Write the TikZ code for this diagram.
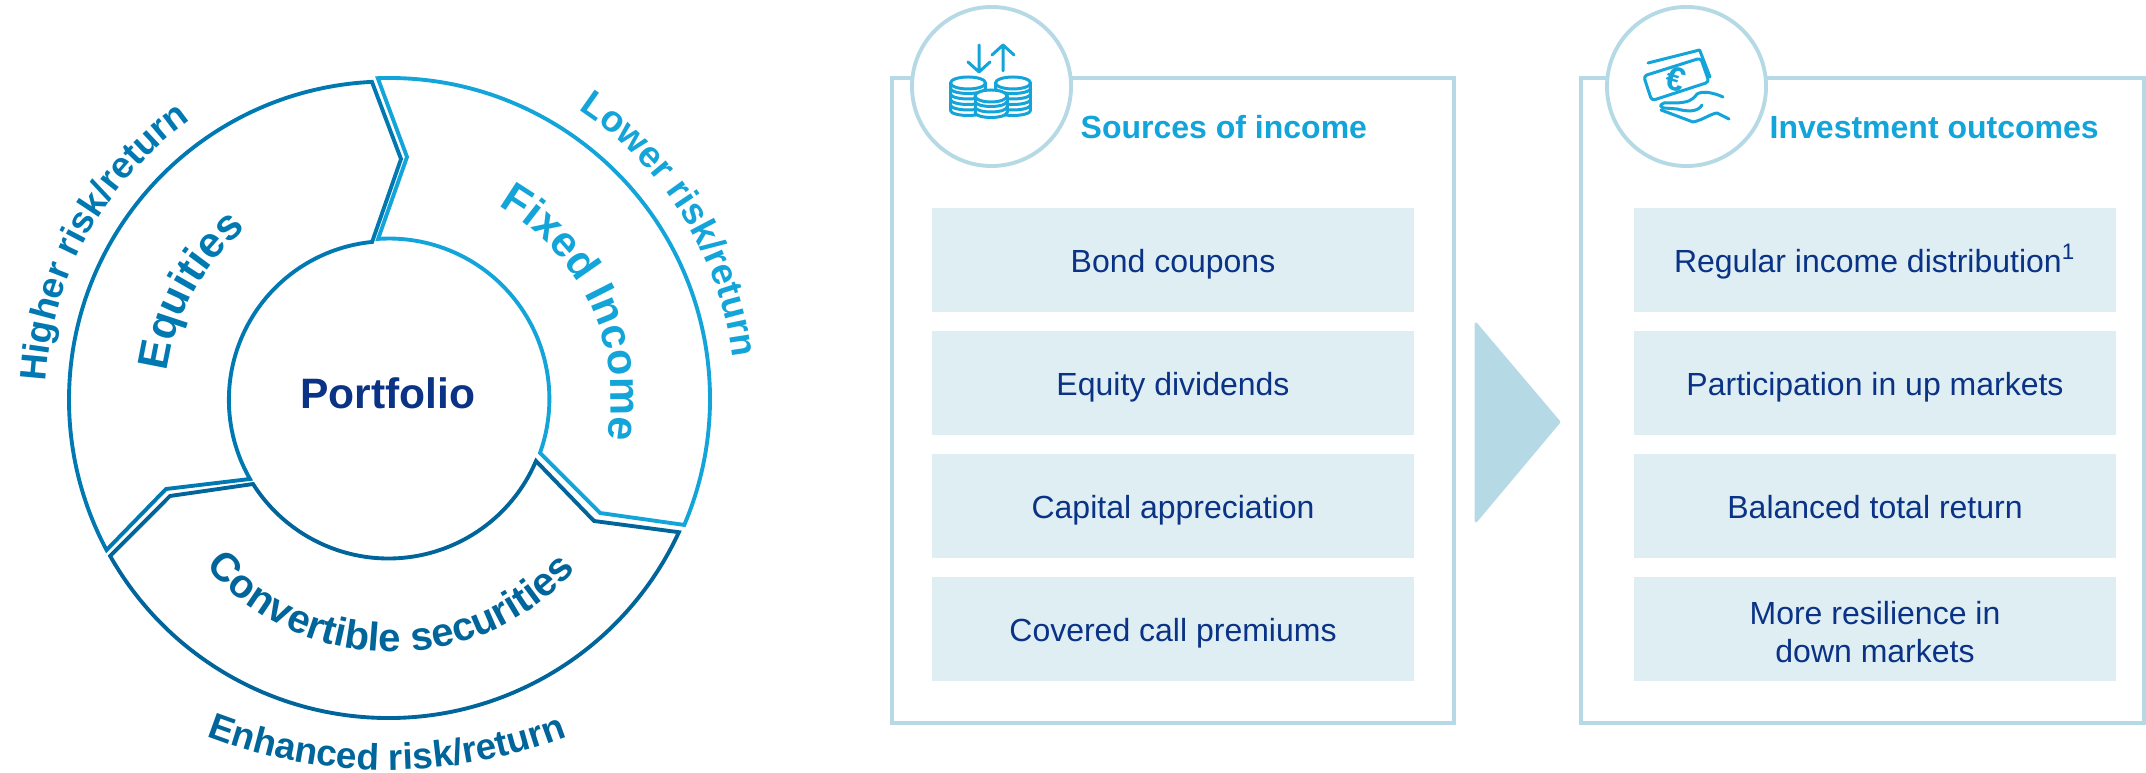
\documentclass[tikz,border=0pt]{standalone}
\usepackage{fontspec}
\setmainfont{Liberation Sans}
\usetikzlibrary{decorations.text}
\definecolor{navytext}{HTML}{0A3285}
\definecolor{equityblue}{HTML}{0079B2}
\definecolor{fixedblue}{HTML}{13A4D9}
\definecolor{convblue}{HTML}{00659A}
\definecolor{panelline}{HTML}{B5DAE6}
\definecolor{boxfill}{HTML}{DFEEF3}
\newcommand{\bigarc}{\bfseries\fontsize{12.2}{14}\selectfont}
\newcommand{\convarc}{\bfseries\fontsize{11.4}{14}\selectfont}
\newcommand{\smallarc}{\bfseries\fontsize{10.5}{13}\selectfont}
\newcommand{\coinstack}[4]{% centre x, top y, half width, layers
	\fill[white] (#1-#3,#2) -- (#1-#3,#2-5.5*#4) arc[start angle=180,end angle=360,x radius=#3,y radius=5] -- (#1+#3,#2) arc[start angle=0,end angle=180,x radius=#3,y radius=6];
	\foreach \layer in {1,...,#4} {
		\draw[iconline] (#1-#3,#2-5.5*\layer) arc[start angle=180,end angle=360,x radius=#3,y radius=5];
	}
	\draw[iconline] (#1-#3,#2) -- (#1-#3,#2-5.5*#4) (#1+#3,#2) -- (#1+#3,#2-5.5*#4);
	\draw[iconline] (#1,#2) ellipse[x radius=#3,y radius=6];
}
\tikzset{
	panel/.style={draw=panelline, line width=1.1pt},
	iconcircle/.style={circle, draw=panelline, fill=white, line width=1.1pt, minimum size=1.59cm, inner sep=0},
	itembox/.style={fill=boxfill, text=navytext, minimum width=4.82cm, minimum height=1.04cm, inner sep=0, align=center, font=\fontsize{9.1}{10.9}\selectfont},
	oneline/.style={text height=9.1pt, text depth=2pt},
	headertext/.style={text=fixedblue, inner sep=0, font=\bfseries\fontsize{9.1}{11}\selectfont},
	iconline/.style={draw=fixedblue, line width=0.85pt, line cap=round, line join=round},
	ringline/.style={line width=1.1pt, line join=miter},
}
\begin{document}
\begin{tikzpicture}[x=0.01cm, y=0.01cm]
	\useasboundingbox (0,0) rectangle (2146,773);
	\coordinate (eqcentre) at (387.5,373);
	\coordinate (fixedcentre) at (389,374);
	\coordinate (convcentre) at (388.4,375);
	% ring
	\draw[ringline, draw=equityblue] (eqcentre) ++(92.8:318.5) arc[start angle=92.8, end angle=208.1, radius=318.5] -- (166,284) -- (250,294) arc[start angle=209.9, end angle=95.6, radius=158.7] -- (401,614) -- cycle;
	\draw[ringline, draw=fixedblue] (fixedcentre) ++(92:321) arc[start angle=92, end angle=-23.1, radius=321] -- (600,260) -- (540,320) arc[start angle=-19.7, end angle=93.9, radius=160.4] -- (407,616) -- cycle;
	\draw[ringline, draw=convblue] (convcentre) ++(209.6:320) arc[start angle=209.6, end angle=335.2, radius=320] -- (594,252) -- (536,312) arc[start angle=336.9, end angle=212.4, radius=160.4] -- (170,277) -- cycle;
	\node[text=navytext, inner sep=0, font=\bfseries\fontsize{12.1}{14}\selectfont] (portfolio) at (388,380) {Portfolio};
	% ring labels
	\path[decorate, decoration={text along path, text align=center, text={|\bigarc\color{equityblue}|Equities}}] (eqcentre) ++(173:222) arc[start angle=173, end angle=129, radius=222];
	\path[decorate, decoration={text along path, text align=center, text={|\bigarc\color{fixedblue}|Fixed Income}}] (fixedcentre) ++(61.5:222) arc[start angle=61.5, end angle=-11.5, radius=222];
	\path[decorate, decoration={text along path, text align=center, text={|\convarc\color{convblue}|Convertible securities}}] (392,367) ++(219:246) arc[start angle=219, end angle=320, radius=246];
	\path[decorate, decoration={text along path, text align=center, text={|\smallarc\color{equityblue}|Higher risk/return}}] (eqcentre) ++(176:342) arc[start angle=176, end angle=126, radius=342];
	\path[decorate, decoration={text along path, text align=center, text={|\smallarc\color{fixedblue}|Lower risk/return}}] (fixedcentre) ++(56:346) arc[start angle=56, end angle=7.6, radius=346];
	\path[decorate, decoration={text along path, text align=center, text={|\smallarc\color{convblue}|Enhanced risk/return}}] (387,503) ++(248:500) arc[start angle=248, end angle=292, radius=500];
	% left panel
	\draw[panel] (892,695) rectangle (1454,50);
	\node[iconcircle] (sourcescircle) at (991.5,686.5) {};
	\node[headertext, anchor=base west] (sources) at (1080,634) {Sources of income};
	\node[itembox, oneline] (coupons) at (1173,513) {Bond coupons};
	\node[itembox, oneline] (dividends) at (1173,390) {Equity dividends};
	\node[itembox, oneline] (appreciation) at (1173,267) {Capital appreciation};
	\node[itembox, oneline] (premiums) at (1173,144) {Covered call premiums};
	% arrow between the panels
	\fill[panelline, draw=panelline, line width=0.8pt, line join=round] (1476,449) -- (1559,351) -- (1476,252) -- cycle;
	% right panel
	\draw[panel] (1581,695) rectangle (2144,50);
	\node[iconcircle] (outcomescircle) at (1686.5,686.5) {};
	\node[headertext, anchor=base west] (outcomes) at (1769,634) {Investment outcomes};
	\node[itembox, oneline] (distribution) at (1875,513) {Regular income distribution\textsuperscript{1}};
	\node[itembox, oneline] (participation) at (1875,390) {Participation in up markets};
	\node[itembox, oneline] (balanced) at (1875,267) {Balanced total return};
	\node[itembox] (resilience) at (1875,144) {\rule{0pt}{8.2pt}More resilience in\\down markets};
	% coins icon
	\draw[iconline] (979,728) -- (979,701) (968,711) -- (979,701) -- (990,711);
	\draw[iconline] (1003,702) -- (1003,728) (992,718) -- (1003,728) -- (1014,718);
	\coinstack{968}{690}{17.5}{5}
	\coinstack{1013}{690}{17.5}{5}
	\coinstack{991}{677}{16}{3}
	% banknote icon
	\draw[iconline] (1648,710) -- (1699.6,723) -- (1710,696);
	\draw[iconline, fill=white, rounded corners=1pt] (1643.6,697) -- (1700.7,715) -- (1709,691) -- (1651.7,672.3) -- cycle;
	\node[text=fixedblue, inner sep=0, rotate=-17, font=\bfseries\fontsize{9.6}{11}\selectfont] (euro) at (1676,694) {€};
	\draw[iconline] (1723,676) .. controls (1712,681) and (1702,682) .. (1697,679) .. controls (1692,672) and (1688,671) .. (1677,670) -- (1664,670) .. controls (1659,668) and (1660,666) .. (1664,665) -- (1677,664) .. controls (1688,661) and (1698,661) .. (1702,668);
	\draw[iconline] (1661,663) -- (1693,651) .. controls (1703,653) and (1710,659) .. (1717,660) -- (1729,654);
\end{tikzpicture}
\end{document}
